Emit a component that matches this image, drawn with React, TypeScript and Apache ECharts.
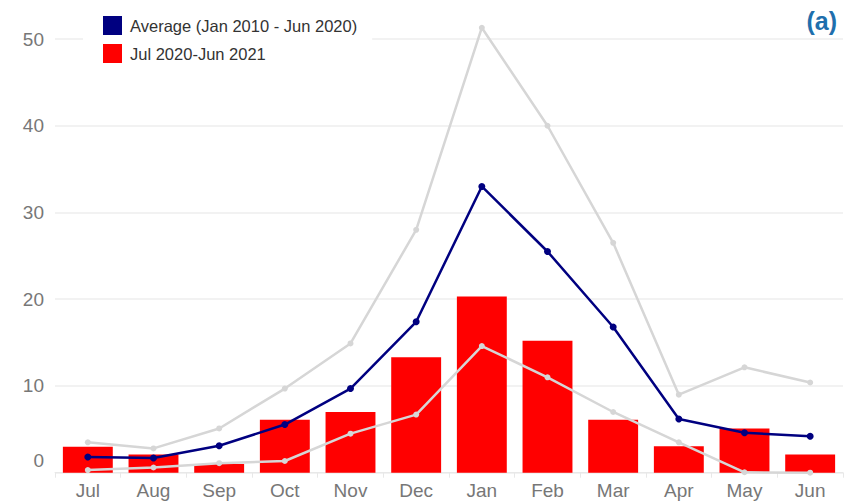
import React, { useEffect, useRef } from "react";
import * as echarts from "echarts";

// Monthly values, July through June
const months = ["Jul", "Aug", "Sep", "Oct", "Nov", "Dec", "Jan", "Feb", "Mar", "Apr", "May", "Jun"];
const currentYear = [3.0, 2.1, 1.0, 6.1, 7.0, 13.3, 20.3, 15.2, 6.1, 3.05, 5.1, 2.1];
const average = [1.8, 1.7, 3.1, 5.55, 9.7, 17.4, 33.0, 25.5, 16.8, 6.2, 4.6, 4.2];
const historicMax = [3.5, 2.8, 5.1, 9.7, 14.9, 28.0, 51.3, 40.0, 26.5, 9.0, 12.15, 10.4];
const historicMin = [0.3, 0.6, 1.1, 1.35, 4.5, 6.7, 14.6, 11.0, 7.0, 3.5, 0.05, 0.0];
const yTicks = [0, 10, 20, 30, 40, 50];

const AVG_NAME = "Average (Jan 2010 - Jun 2020)";
const CUR_NAME = "Jul 2020-Jun 2021";
const FONT = "Arial, 'Liberation Sans', sans-serif";

export default function App() {
  const ref = useRef<HTMLDivElement>(null);

  useEffect(() => {
    if (!ref.current) return;
    const chart = echarts.init(ref.current, null, { renderer: "svg" });
    const greyLine = (name: string, data: number[]) => ({
      name,
      type: "line",
      data,
      clip: false,
      z: 3,
      symbol: "circle",
      symbolSize: 6,
      lineStyle: { color: "#d6d6d6", width: 2.5 },
      itemStyle: { color: "#d6d6d6" },
    });
    chart.setOption({
      animation: false,
      textStyle: { fontFamily: FONT },
      grid: { left: 55, right: 3, top: 39, bottom: 30.3, containLabel: false },
      legend: {
        orient: "vertical",
        left: 83,
        top: 8,
        padding: [8, 15, 8, 20],
        backgroundColor: "#ffffff",
        itemWidth: 19,
        itemHeight: 19,
        itemGap: 9,
        data: [
          { name: AVG_NAME, icon: "rect" },
          { name: CUR_NAME, icon: "rect" },
        ],
        textStyle: { fontSize: 16.5, color: "#333333", fontFamily: FONT, padding: [0, 0, 0, 3] },
        z: 10,
      },
      xAxis: {
        type: "category",
        data: months,
        axisLine: { show: true, lineStyle: { color: "#e8e8e8", width: 1 } },
        axisTick: { show: true, length: 5, lineStyle: { color: "#e8e8e8" } },
        axisLabel: { color: "#777777", fontSize: 19, margin: 8, fontFamily: FONT },
      },
      yAxis: {
        type: "value",
        min: 0,
        max: 50,
        interval: 10,
        axisLine: { show: false },
        axisTick: { show: false },
        splitLine: { lineStyle: { color: "#eeeeee", width: 1.5 } },
        axisLabel: {
          color: "#777777",
          fontSize: 19,
          margin: 11,
          fontFamily: FONT,
          formatter: (v: number) => (yTicks.includes(v) ? (v === 0 ? "{z|0}" : String(v)) : ""),
          rich: { z: { fontSize: 19, color: "#777777", fontFamily: FONT, padding: [0, 0, 25, 0] } },
        },
      },
      graphic: [
        {
          type: "text",
          right: 9,
          top: 8,
          style: { text: "(a)", font: `bold 25px ${FONT}`, fill: "#1f6fad" },
        },
      ],
      series: [
        {
          name: CUR_NAME,
          type: "bar",
          data: currentYear,
          barCategoryGap: "24%",
          itemStyle: { color: "#ff0000" },
          z: 2,
        },
        greyLine("Maximum (Jan 2010 - Jun 2020)", historicMax),
        greyLine("Minimum (Jan 2010 - Jun 2020)", historicMin),
        {
          name: AVG_NAME,
          type: "line",
          data: average,
          clip: false,
          z: 4,
          symbol: "circle",
          symbolSize: 7,
          lineStyle: { color: "#000080", width: 2.5 },
          itemStyle: { color: "#000080" },
        },
      ],
    });
    return () => chart.dispose();
  }, []);

  return (
    <div
      ref={ref}
      style={{ position: "fixed", left: 0, top: 0, width: 846, height: 503, background: "#ffffff" }}
    />
  );
}
